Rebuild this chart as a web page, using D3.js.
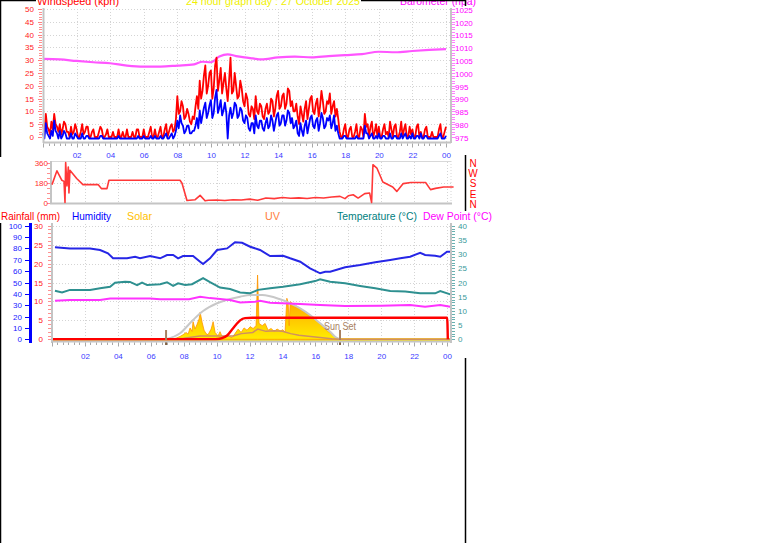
<!DOCTYPE html>
<html><head><meta charset="utf-8">
<script src="https://cdn.jsdelivr.net/npm/d3@7/dist/d3.min.js"></script>
<style>
body{margin:0;background:#fff;}
svg text{font-family:"Liberation Sans",Arial,sans-serif;}
</style></head>
<body><svg id="c" width="761" height="543"></svg>
<script>
// ---------------- DATA ----------------
const titleText = "24 hour graph day : 27 October 2025";
const hourTickValues = [2,4,6,8,10,12,14,16,18,20,22,24];
const hourTickLabels = ["02","04","06","08","10","12","14","16","18","20","22","00"];

// wind, one value every 5 minutes from 00:00 to 24:00 (kph)
const windStepMinutes = 5;
const windGust = [
 5,2,9,4,3,1,6,3,9,5,4,2,
 5,1,3,6,5,2,2,0,4,1,2,5,
 3,0,0,2,5,1,2,4,4,0,0,2,
 3,0,0,0,2,4,3,0,0,1,3,0,
 0,0,2,0,0,0,3,0,0,2,0,0,
 3,0,0,0,2,0,0,3,3,0,0,0,
 3,0,0,0,2,4,0,0,3,0,0,2,
 4,0,0,3,5,0,2,4,5,2,3,7,
 16,9,10,14,12,7,8,11,9,6,5,8,
 7,12,16,11,22,15,18,24,28,17,20,25,
 26,15,19,28,31,18,22,27,17,21,25,19,
 14,22,31,17,18,25,20,15,16,22,19,14,
 12,17,15,9,8,12,11,7,16,10,9,13,
 12,8,7,11,13,9,10,15,14,8,11,16,
 18,11,12,16,17,11,13,19,18,12,14,10,
 10,13,8,5,12,9,6,11,14,7,11,15,
 16,10,9,13,15,8,12,18,14,9,10,14,
 13,17,9,12,14,8,11,7,2,0,0,3,
 5,0,0,3,4,0,0,2,5,0,0,4,
 3,0,9,4,5,0,4,6,0,2,5,0,
 4,0,0,3,5,1,2,0,6,3,0,4,
 5,0,0,2,6,0,3,5,0,0,4,1,
 3,0,0,4,5,0,2,0,0,3,4,0,
 0,0,2,0,0,0,0,3,5,0,0,2,
 4];
const windAvg = [
 2,0,6,2,1,0,3,1,7,3,2,0,
 3,0,1,3,2,0,0,0,2,0,0,2,
 1,0,0,0,2,0,0,1,1,0,0,0,
 0,0,0,0,0,1,1,0,0,0,0,0,
 0,0,0,0,0,0,1,0,0,0,0,0,
 0,0,0,0,0,0,0,0,1,0,0,0,
 1,0,0,0,0,1,0,0,1,0,0,0,
 1,0,0,1,2,0,0,1,2,0,1,3,
 7,4,9,6,5,2,3,5,5,2,2,3,
 3,5,8,4,11,6,9,12,14,8,10,13,
 15,8,10,16,19,10,12,15,9,11,14,10,
 0,9,12,8,10,14,13,8,9,12,11,7,
 6,9,8,4,3,6,6,2,9,5,4,7,
 7,4,3,6,8,4,5,9,7,3,6,9,
 10,5,6,9,9,5,7,11,10,6,8,4,
 5,7,2,1,6,3,1,5,7,2,5,8,
 9,5,4,7,8,3,6,10,8,4,5,8,
 7,9,4,6,9,3,5,2,0,0,0,1,
 1,0,0,0,0,0,0,0,1,0,0,0,
 0,0,5,2,2,0,1,2,0,0,1,0,
 2,0,0,1,1,0,0,0,2,0,0,1,
 1,0,0,0,2,0,1,2,0,0,1,0,
 2,0,0,1,1,0,2,0,0,1,1,0,
 0,0,0,0,0,0,0,1,2,0,0,0,
 1];

// barometer (hPa)
const baroHours = [0,1,2,3,4,5,6,7,8,9,9.5,10,10.5,11,11.5,12,12.5,13,14,15,16,17,18,19,20,21,22,23,24];
const baroValues = [1005.5,1005.3,1004.7,1004.2,1003.8,1002.9,1002.5,1002.5,1002.9,1003.4,1004.4,1004.2,1006.4,1007.3,1006.6,1006.1,1005.7,1005.3,1006.1,1006.4,1006.1,1006.6,1007.0,1007.4,1008.3,1008.1,1008.6,1009.0,1009.3];

// wind direction (degrees)
const dirHours = [0,0.3,0.6,0.73,0.79,0.83,0.91,0.99,1.03,1.09,1.5,1.88,2.8,3.0,3.34,3.46,7.78,7.9,8.2,8.7,9.0,9.3,9.5,10,10.5,11,11.5,12,12.5,13,13.5,14,14.5,15,15.5,16,16.5,17,17.5,17.8,18,18.3,18.6,19,19.3,19.42,19.5,19.74,20.1,20.7,20.95,21.34,21.8,22.7,23.0,23.3,23.8,24.4];
const dirValues = [161,285,200,190,0,360,150,320,85,290,216,161,161,125,125,200,200,173,18,25,64,15,20,22,18,25,22,30,20,40,35,45,38,42,36,45,40,50,55,35,60,70,40,80,85,0,340,310,185,140,100,170,180,180,116,127,140,140];

// humidity (%)
const humHours = [0.18,1.09,2.31,2.92,3.4,3.71,4.56,5.05,5.35,5.96,6.57,6.99,7.36,7.66,7.96,8.57,9.0,9.18,9.6,10.03,10.64,11.12,11.55,12.04,12.64,13.25,14.04,14.47,15.08,15.68,16.29,16.6,16.9,17.81,18.72,19.64,20.55,21.16,21.76,22.37,22.67,23.28,23.59,24.0,24.2];
const humValues = [81,80,80,78.6,75.7,71.3,71.3,72.7,71.3,73.3,71.3,74.2,74.2,71.3,73.3,73.3,68.3,66.3,71.3,78.6,80,85.4,85,81.5,78.6,73.3,73.6,71.3,68.3,62.5,58.1,59.5,59.5,63.4,65.4,67.8,69.8,71.3,72.7,76.2,74.2,73.6,72.7,77.1,77.1];

// temperature (°C)
const tempHours = [0.18,0.61,1.09,2.31,2.92,3.53,3.83,4.44,4.74,5.17,5.47,5.78,6.57,6.99,7.36,7.66,8.09,8.51,9.18,9.6,10.21,10.82,11.43,12.04,12.52,13.25,14.04,15.08,15.99,16.29,16.9,17.81,18.72,19.64,20.55,21.46,22.37,23.28,23.59,24.2];
const tempValues = [17.1,16.5,17.4,17.4,18,18.5,19.9,20.3,20.2,19.1,20,19.1,19.4,20.1,18.8,19.7,19.1,19.4,21.5,20.1,18.2,17.7,16.5,16.2,17.4,18,18.5,19.4,20.5,21.1,20.3,19.7,18.8,18,17,16.8,16.2,16.2,17,15.8];

// dew point (°C)
const dewHours = [0.18,1.09,2.92,3.53,5.96,6.57,8.33,9.0,9.6,10.82,11.43,12.34,12.64,13.25,15.08,16.29,17.81,20.0,21.76,22.67,23.59,24.2];
const dewValues = [13.6,13.8,13.8,14.4,14.4,14.1,14.1,15,14.5,13.8,13.0,13.2,13.6,12.9,12.4,12.1,11.7,11.8,12.1,11.5,12.1,11.5];

// rainfall (mm, cumulative)
const rainHours = [0,9.91,10.33,10.64,10.94,11.19,11.43,11.73,12.16,24.01,24.05];
const rainValues = [0,0,0.3,1.0,2.6,3.9,5.0,5.6,5.7,5.7,0];

// solar radiation (W/m²) and theoretical max
const solarMaxHours = [6.93,7.78,8.57,9.18,10.03,10.82,11.43,12.04,12.77,13.86,14.47,15.08,15.68,16.29,16.9,17.2,17.5];
const solarMaxValues = [0,53,170,249,317,355,375,390,390,352,317,273,214,141,67,23,0];
const solarHours = [0,7.17,7.54,7.78,7.96,8.15,8.27,8.39,8.51,8.57,8.69,8.81,8.94,9.0,9.12,9.24,9.36,9.48,9.67,9.79,9.91,10.09,10.21,10.33,10.52,10.7,10.94,11.12,11.31,11.49,11.67,11.85,12.04,12.22,12.4,12.49,12.58,12.77,12.95,13.13,13.31,13.5,13.68,13.86,14.04,14.16,14.27,14.35,14.41,14.47,14.77,15.08,15.38,15.68,15.99,16.29,16.6,16.9,17.2,17.5,24.3];
const solarValues = [0,0,10,25,40,60,45,100,70,155,90,130,180,238,150,80,50,40,90,155,60,30,67,25,20,30,15,50,90,60,100,80,110,95,120,566,140,120,140,80,95,70,90,75,82,60,361,317,120,330,300,272,240,210,180,140,90,55,20,0,0];

// UV index
const uvHours = [0,7.0,8.0,9.0,10.0,11.0,11.5,12.2,12.5,13.0,13.5,14.0,14.5,15.0,16.0,17.0,17.5,24.3];
const uvValues = [0,0,0.1,0.3,0.3,0.3,0.5,0.6,0.9,0.7,0.75,0.7,0.5,0.35,0.2,0.05,0,0];

const sunRiseHour = 6.93, sunSetHour = 17.5;
const dirLetters = ["N","W","S","E","N"];

// ---------------- DRAW ----------------
const svg = d3.select("#c");
const FONT = '"Liberation Sans", Arial, sans-serif';
const GRID = "#d4d4d4", AXIS = "#c4c4c4", XLAB = "#3a3aff";

function label(g, x, y, s, fill, size, anchor, len) {
  const t = g.append("text").attr("x", x).attr("y", y).text(s)
    .attr("fill", fill).attr("font-size", size).attr("text-anchor", anchor || "start");
  if (len) t.attr("textLength", len).attr("lengthAdjust", "spacingAndGlyphs");
  return t;
}
function hline(g, x1, x2, y, c, w, dash) {
  const l = g.append("line").attr("x1", x1).attr("x2", x2).attr("y1", y).attr("y2", y)
    .attr("stroke", c).attr("stroke-width", w || 1);
  if (dash) l.attr("stroke-dasharray", dash);
}
function vline(g, x, y1, y2, c, w, dash) {
  const l = g.append("line").attr("x1", x).attr("x2", x).attr("y1", y1).attr("y2", y2)
    .attr("stroke", c).attr("stroke-width", w || 1);
  if (dash) l.attr("stroke-dasharray", dash);
}
function yTicks(g, scale, values, x, len, color, side) {
  values.forEach(v => {
    const y = Math.round(scale(v)) + 0.5;
    if (side === "left") hline(g, x - len, x, y, color, 1);
    else hline(g, x, x + len, y, color, 1);
  });
}
function timeAxis(g, scale, y, x0, x1, labelY) {
  hline(g, x0, x1, y, AXIS, 2);
  d3.range(0, 24.35, 1/3).forEach(h => {
    const x = Math.round(scale(h)) + 0.5;
    if (x < x0 || x > x1) return;
    const major = Math.abs(h - Math.round(h)) < 1e-6 && Math.round(h) % 2 === 0;
    vline(g, x, y + 1, y + (major ? 5 : 3.5), "#a8a8a8", 1);
  });
  const ax = d3.axisBottom(scale).tickValues(hourTickValues)
    .tickFormat((d, i) => hourTickLabels[i]).tickSize(0);
  const a = g.append("g").attr("transform", `translate(0,${labelY})`).call(ax);
  a.select(".domain").remove();
  a.selectAll("text").attr("fill", XLAB).attr("font-size", 8).attr("font-family", FONT).attr("dy", 0);
}
function vGrid(g, scale, y1, y2) {
  hourTickValues.forEach(h => vline(g, Math.round(scale(h)) + 0.5, y1, y2, GRID, 1, "1,2"));
}
const fmtInt = d3.format("d");

// ===== TOP PANEL (wind speed + barometer) =====
const topG = svg.append("g");
const xT = d3.scaleLinear().domain([0, 24]).range([43, 446]);
const yW = d3.scaleLinear().domain([0, 50]).range([137, 9]);
const yB = d3.scaleLinear().domain([975, 1025]).range([137, 9]);

d3.range(5, 51, 5).forEach(v => hline(topG, 44, 451, Math.round(yW(v)) + 0.5, GRID, 1, "1,2"));
vGrid(topG, xT, 9, 142);

const lineW = d3.line().x((d, i) => xT(i * windStepMinutes / 60)).y(d => yW(d));
const lineBaro = d3.line().x((d, i) => xT(baroHours[i])).y(d => yB(d)).curve(d3.curveMonotoneX);
topG.append("path").attr("d", lineBaro(baroValues)).attr("fill", "none").attr("stroke", "#ff55ff").attr("stroke-width", 2.2);
topG.append("path").attr("d", lineW(windGust)).attr("fill", "none").attr("stroke", "#ff0000").attr("stroke-width", 1.8).attr("stroke-linejoin", "round");
topG.append("path").attr("d", lineW(windAvg)).attr("fill", "none").attr("stroke", "#0000ff").attr("stroke-width", 1.8).attr("stroke-linejoin", "round").attr("transform", "translate(0,1.5)");

vline(topG, 43.5, 8, 143, AXIS, 2);
vline(topG, 451, 8, 143, AXIS, 2);
yTicks(topG, yW, d3.range(0, 51, 1), 42, 3, "#ff9090", "left");
yTicks(topG, yW, d3.range(0, 51, 5), 42, 4, "#ff8080", "left");
yTicks(topG, yB, d3.range(975, 1026, 1), 452, 3, "#ff80ff", "right");
const wAx = d3.axisLeft(yW).tickValues(d3.range(0, 51, 5)).tickSize(0).tickPadding(0).tickFormat(fmtInt);
const gw = topG.append("g").attr("transform", "translate(34,0)").call(wAx);
gw.select(".domain").remove();
gw.selectAll("text").attr("fill", "#ff2020").attr("font-size", 8).attr("font-family", FONT);
const bAx = d3.axisRight(yB).tickValues(d3.range(975, 1026, 5)).tickSize(0).tickPadding(0).tickFormat(fmtInt);
const gb = topG.append("g").attr("transform", "translate(455,0.8)").call(bAx);
gb.select(".domain").remove();
gb.selectAll("text").attr("fill", "#ff00ff").attr("font-size", 8).attr("font-family", FONT);
timeAxis(topG, xT, 142.5, 43, 451, 155);

label(topG, 37, 4.8, "Windspeed (kph)", "#ff0000", 11, "start", 82);
label(topG, 186, 4.8, titleText, "#f0f000", 11, "start", 174);
label(topG, 400, 4.8, "Barometer (hpa)", "#ff00ff", 11, "start", 76);

// ===== WIND DIRECTION PANEL =====
const dirG = svg.append("g");
const xD = d3.scaleLinear().domain([0, 24]).range([52, 447]);
const yD = d3.scaleLinear().domain([0, 360]).range([202.5, 162.5]);
hline(dirG, 51, 451, 161.5, "#d8d8d8", 1);
hline(dirG, 51, 451, Math.round(yD(180)) + 0.5, GRID, 1, "1,2");
vGrid(dirG, xD, 162, 202);
vline(dirG, 451, 161, 203, GRID, 1, "1,2");
hline(dirG, 50, 452, 203.5, AXIS, 2);
vline(dirG, 51, 161, 204, AXIS, 2);
yTicks(dirG, yD, d3.range(0, 361, 45), 50, 3, "#ff9090", "left");
const dAx = d3.axisLeft(yD).tickValues([0, 180, 360]).tickSize(0).tickPadding(0);
const gd = dirG.append("g").attr("transform", "translate(48,0)").call(dAx);
gd.select(".domain").remove();
gd.selectAll("text").attr("fill", "#ff3030").attr("font-size", 8).attr("font-family", FONT);
const lineDir = d3.line().x((d, i) => xD(dirHours[i])).y(d => yD(d));
dirG.append("path").attr("d", lineDir(dirValues)).attr("fill", "none").attr("stroke", "#ff3838").attr("stroke-width", 1.6).attr("stroke-linejoin", "round");
dirLetters.forEach((s, i) => label(dirG, 473, 166.5 + i * 10.4, s, "#ff0000", 10, "middle"));

// ===== BOTTOM PANEL =====
const bot = svg.append("g");
const xBt = d3.scaleLinear().domain([0, 24]).range([52, 447]);
const yH = d3.scaleLinear().domain([0, 100]).range([339.3, 225.7]);
const yR = d3.scaleLinear().domain([0, 30]).range([339.3, 225.7]);
const yTm = d3.scaleLinear().domain([0, 40]).range([339.3, 225.7]);
const yS = d3.scaleLinear().domain([0, 1000]).range([339.3, 225.7]);
const yU = d3.scaleLinear().domain([0, 10]).range([339.3, 225.7]);

d3.range(5, 31, 5).forEach(v => hline(bot, 53, 451, Math.round(yR(v)) + 0.5, GRID, 1, "1,2"));
vGrid(bot, xBt, 224, 341);

const defs = svg.append("defs");
const grad = defs.append("linearGradient").attr("id", "solarGrad").attr("gradientUnits", "userSpaceOnUse")
  .attr("x1", 0).attr("x2", 0).attr("y1", 290).attr("y2", 340);
grad.append("stop").attr("offset", "0%").attr("stop-color", "#ff9a00");
grad.append("stop").attr("offset", "55%").attr("stop-color", "#ffc400");
grad.append("stop").attr("offset", "100%").attr("stop-color", "#ffee00");

hline(bot, 52, 451, 339.8, "#ffe000", 3);
const areaSolar = d3.area().x((d, i) => xBt(solarHours[i])).y0(yS(0)).y1(d => yS(d));
bot.append("path").attr("d", areaSolar(solarValues)).attr("fill", "url(#solarGrad)")
  .attr("stroke", "#ff9500").attr("stroke-width", 0.8);
const lineSMax = d3.line().x((d, i) => xBt(solarMaxHours[i])).y(d => yS(d)).curve(d3.curveMonotoneX);
bot.append("path").attr("d", lineSMax(solarMaxValues)).attr("fill", "none").attr("stroke", "#c8c8c8").attr("stroke-width", 2);
const lineUV = d3.line().x((d, i) => xBt(uvHours[i])).y(d => yU(d));
bot.append("path").attr("d", lineUV(uvValues)).attr("fill", "none").attr("stroke", "#d09060").attr("stroke-width", 1.5);

const mk = (hs, ys) => d3.line().x((d, i) => xBt(hs[i])).y(d => ys(d));
bot.append("path").attr("d", mk(dewHours, yTm)(dewValues)).attr("fill", "none").attr("stroke", "#ff33ff").attr("stroke-width", 2);
bot.append("path").attr("d", mk(tempHours, yTm)(tempValues)).attr("fill", "none").attr("stroke", "#2e9090").attr("stroke-width", 2);
bot.append("path").attr("d", mk(humHours, yH)(humValues)).attr("fill", "none").attr("stroke", "#2626e6").attr("stroke-width", 2);
const lineRain = d3.line().x((d, i) => xBt(rainHours[i])).y(d => yR(d)).curve(d3.curveMonotoneX);
bot.append("path").attr("d", lineRain(rainValues)).attr("fill", "none").attr("stroke", "#ff0000").attr("stroke-width", 2.4);

[sunRiseHour, sunSetHour].forEach(h => {
  vline(bot, xBt(h), 330, 340, "#a88060", 2);
  vline(bot, xBt(h), 341, 345, "#806040", 2);
});
label(bot, 324, 330, "Sun Set", "#a88060", 10, "start", 32);

vline(bot, 52, 223, 343, AXIS, 2);
vline(bot, 451, 223, 343, AXIS, 2);
vline(bot, 30.5, 223, 343, "#0000ff", 3);
yTicks(bot, yH, d3.range(0, 101, 10), 29, 4, "#0000ff", "left");
yTicks(bot, yR, d3.range(0, 31, 1), 51, 3, "#ff9090", "left");
yTicks(bot, yTm, d3.range(0, 41, 1), 452, 3, "#6ab0b0", "right");
const hAx = d3.axisLeft(yH).tickValues(d3.range(0, 101, 10)).tickSize(0).tickPadding(0);
const gh = bot.append("g").attr("transform", "translate(22,0)").call(hAx);
gh.select(".domain").remove();
gh.selectAll("text").attr("fill", "#2020ff").attr("font-size", 8).attr("font-family", FONT);
const rAx = d3.axisLeft(yR).tickValues(d3.range(0, 31, 5)).tickSize(0).tickPadding(0);
const gr = bot.append("g").attr("transform", "translate(43,0)").call(rAx);
gr.select(".domain").remove();
gr.selectAll("text").attr("fill", "#ff2020").attr("font-size", 8).attr("font-family", FONT);
const tAx = d3.axisRight(yTm).tickValues(d3.range(0, 41, 5)).tickSize(0).tickPadding(0);
const gt = bot.append("g").attr("transform", "translate(458,0)").call(tAx);
gt.select(".domain").remove();
gt.selectAll("text").attr("fill", "#3a9a9a").attr("font-size", 8).attr("font-family", FONT);
timeAxis(bot, xBt, 341.5, 52, 451, 356);

label(bot, 1, 220, "Rainfall (mm)", "#ff0000", 11, "start", 59);
label(bot, 72, 220, "Humidity", "#0000ff", 11, "start", 39);
label(bot, 127, 220, "Solar", "#ffc000", 11, "start", 25);
label(bot, 265, 220, "UV", "#ff8040", 11, "start", 15);
label(bot, 337, 220, "Temperature (°C)", "#008080", 11, "start", 80);
label(bot, 423, 220, "Dew Point (°C)", "#ff00ff", 11, "start", 69);

const fr = svg.append("g");
vline(fr, 0.5, 0, 157, "#000", 1.5);
vline(fr, 0.5, 223, 543, "#000", 1.5);
vline(fr, 465.5, 0, 6, "#000", 1.5);
vline(fr, 465.5, 155, 211, "#000", 1.5);
vline(fr, 465.5, 358, 543, "#000", 1.5);
hline(fr, 0, 36, 0.5, "#000", 1.5);
hline(fr, 361, 466, 0.5, "#000", 1.5);
</script></body></html>
